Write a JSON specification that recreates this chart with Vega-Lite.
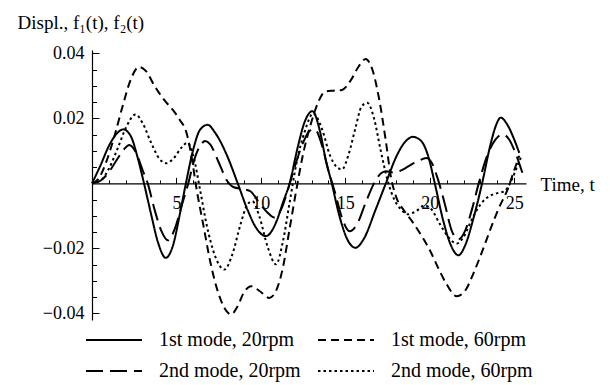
{
"$schema":"https://vega.github.io/schema/vega-lite/v6.json",
"width":434,"height":270,
"autosize":{"type":"none"},
"padding":{"left":92,"top":50,"right":84,"bottom":65},
"config":{"view":{"stroke":null},"font":"Liberation Serif",
 "axis":{"labelFont":"Liberation Serif","titleFont":"Liberation Serif","domainColor":"black","tickColor":"black","labelColor":"black","titleColor":"black","grid":false,"titleFontWeight":"normal","labelFlush":false,"labelOverlap":false,"labelBound":false}},
"data":{"values":[
{"s":"1st mode, 20rpm","t":0,"v":0},{"s":"1st mode, 20rpm","t":0.5,"v":0.0055},{"s":"1st mode, 20rpm","t":1.0,"v":0.0115},{"s":"1st mode, 20rpm","t":1.5,"v":0.0155},{"s":"1st mode, 20rpm","t":1.85,"v":0.0166},{"s":"1st mode, 20rpm","t":2.3,"v":0.0145},{"s":"1st mode, 20rpm","t":2.7,"v":0.008},{"s":"1st mode, 20rpm","t":3.08,"v":0},{"s":"1st mode, 20rpm","t":3.5,"v":-0.0095},{"s":"1st mode, 20rpm","t":3.9,"v":-0.018},{"s":"1st mode, 20rpm","t":4.37,"v":-0.0229},{"s":"1st mode, 20rpm","t":4.8,"v":-0.019},{"s":"1st mode, 20rpm","t":5.2,"v":-0.0095},{"s":"1st mode, 20rpm","t":5.56,"v":0},{"s":"1st mode, 20rpm","t":6.0,"v":0.0105},{"s":"1st mode, 20rpm","t":6.4,"v":0.0165},{"s":"1st mode, 20rpm","t":6.85,"v":0.018},{"s":"1st mode, 20rpm","t":7.3,"v":0.0155},{"s":"1st mode, 20rpm","t":8.0,"v":0.0085},{"s":"1st mode, 20rpm","t":8.63,"v":0},{"s":"1st mode, 20rpm","t":9.2,"v":-0.008},{"s":"1st mode, 20rpm","t":9.7,"v":-0.0135},{"s":"1st mode, 20rpm","t":10.3,"v":-0.0162},{"s":"1st mode, 20rpm","t":10.9,"v":-0.012},{"s":"1st mode, 20rpm","t":11.3,"v":-0.006},{"s":"1st mode, 20rpm","t":11.7,"v":0},{"s":"1st mode, 20rpm","t":12.2,"v":0.0115},{"s":"1st mode, 20rpm","t":12.6,"v":0.019},{"s":"1st mode, 20rpm","t":13.05,"v":0.0222},{"s":"1st mode, 20rpm","t":13.5,"v":0.016},{"s":"1st mode, 20rpm","t":13.85,"v":0.007},{"s":"1st mode, 20rpm","t":14.2,"v":0},{"s":"1st mode, 20rpm","t":14.6,"v":-0.009},{"s":"1st mode, 20rpm","t":15.1,"v":-0.017},{"s":"1st mode, 20rpm","t":15.6,"v":-0.0198},{"s":"1st mode, 20rpm","t":16.1,"v":-0.017},{"s":"1st mode, 20rpm","t":16.8,"v":-0.008},{"s":"1st mode, 20rpm","t":17.4,"v":0},{"s":"1st mode, 20rpm","t":18.0,"v":0.008},{"s":"1st mode, 20rpm","t":18.5,"v":0.0125},{"s":"1st mode, 20rpm","t":19.0,"v":0.0143},{"s":"1st mode, 20rpm","t":19.5,"v":0.013},{"s":"1st mode, 20rpm","t":19.9,"v":0.0085},{"s":"1st mode, 20rpm","t":20.3,"v":0},{"s":"1st mode, 20rpm","t":20.8,"v":-0.0115},{"s":"1st mode, 20rpm","t":21.25,"v":-0.019},{"s":"1st mode, 20rpm","t":21.7,"v":-0.0221},{"s":"1st mode, 20rpm","t":22.1,"v":-0.019},{"s":"1st mode, 20rpm","t":22.6,"v":-0.0105},{"s":"1st mode, 20rpm","t":23.1,"v":0},{"s":"1st mode, 20rpm","t":23.6,"v":0.012},{"s":"1st mode, 20rpm","t":23.9,"v":0.0175},{"s":"1st mode, 20rpm","t":24.2,"v":0.0202},{"s":"1st mode, 20rpm","t":24.6,"v":0.018},{"s":"1st mode, 20rpm","t":25.0,"v":0.0135},{"s":"1st mode, 20rpm","t":25.3,"v":0.0094},
{"s":"2nd mode, 20rpm","t":0,"v":0},{"s":"2nd mode, 20rpm","t":0.5,"v":0.0008},{"s":"2nd mode, 20rpm","t":1.0,"v":0.0035},{"s":"2nd mode, 20rpm","t":1.5,"v":0.0075},{"s":"2nd mode, 20rpm","t":1.9,"v":0.0105},{"s":"2nd mode, 20rpm","t":2.2,"v":0.0118},{"s":"2nd mode, 20rpm","t":2.6,"v":0.0095},{"s":"2nd mode, 20rpm","t":3.0,"v":0.004},{"s":"2nd mode, 20rpm","t":3.3,"v":0},{"s":"2nd mode, 20rpm","t":3.7,"v":-0.008},{"s":"2nd mode, 20rpm","t":4.1,"v":-0.0145},{"s":"2nd mode, 20rpm","t":4.5,"v":-0.0175},{"s":"2nd mode, 20rpm","t":4.9,"v":-0.014},{"s":"2nd mode, 20rpm","t":5.3,"v":-0.007},{"s":"2nd mode, 20rpm","t":5.7,"v":0},{"s":"2nd mode, 20rpm","t":6.1,"v":0.008},{"s":"2nd mode, 20rpm","t":6.4,"v":0.0115},{"s":"2nd mode, 20rpm","t":6.7,"v":0.013},{"s":"2nd mode, 20rpm","t":7.0,"v":0.012},{"s":"2nd mode, 20rpm","t":7.5,"v":0.0065},{"s":"2nd mode, 20rpm","t":8.0,"v":0.0008},{"s":"2nd mode, 20rpm","t":8.4,"v":-0.0012},{"s":"2nd mode, 20rpm","t":9.0,"v":-0.0018},{"s":"2nd mode, 20rpm","t":9.4,"v":-0.0025},{"s":"2nd mode, 20rpm","t":9.9,"v":-0.006},{"s":"2nd mode, 20rpm","t":10.4,"v":-0.009},{"s":"2nd mode, 20rpm","t":10.8,"v":-0.0105},{"s":"2nd mode, 20rpm","t":11.2,"v":-0.008},{"s":"2nd mode, 20rpm","t":11.6,"v":-0.002},{"s":"2nd mode, 20rpm","t":12.0,"v":0.005},{"s":"2nd mode, 20rpm","t":12.5,"v":0.0125},{"s":"2nd mode, 20rpm","t":12.9,"v":0.0162},{"s":"2nd mode, 20rpm","t":13.2,"v":0.0166},{"s":"2nd mode, 20rpm","t":13.6,"v":0.012},{"s":"2nd mode, 20rpm","t":14.0,"v":0.004},{"s":"2nd mode, 20rpm","t":14.4,"v":-0.003},{"s":"2nd mode, 20rpm","t":14.8,"v":-0.0105},{"s":"2nd mode, 20rpm","t":15.25,"v":-0.0147},{"s":"2nd mode, 20rpm","t":15.7,"v":-0.0125},{"s":"2nd mode, 20rpm","t":16.2,"v":-0.006},{"s":"2nd mode, 20rpm","t":16.7,"v":0},{"s":"2nd mode, 20rpm","t":17.1,"v":0.003},{"s":"2nd mode, 20rpm","t":17.4,"v":0.0037},{"s":"2nd mode, 20rpm","t":17.9,"v":0.0033},{"s":"2nd mode, 20rpm","t":18.4,"v":0.0042},{"s":"2nd mode, 20rpm","t":18.9,"v":0.0058},{"s":"2nd mode, 20rpm","t":19.3,"v":0.0068},{"s":"2nd mode, 20rpm","t":19.8,"v":0.0078},{"s":"2nd mode, 20rpm","t":20.1,"v":0.0065},{"s":"2nd mode, 20rpm","t":20.5,"v":0.001},{"s":"2nd mode, 20rpm","t":20.9,"v":-0.0065},{"s":"2nd mode, 20rpm","t":21.3,"v":-0.0145},{"s":"2nd mode, 20rpm","t":21.7,"v":-0.0172},{"s":"2nd mode, 20rpm","t":22.1,"v":-0.0145},{"s":"2nd mode, 20rpm","t":22.5,"v":-0.008},{"s":"2nd mode, 20rpm","t":22.9,"v":0},{"s":"2nd mode, 20rpm","t":23.4,"v":0.0085},{"s":"2nd mode, 20rpm","t":23.9,"v":0.0135},{"s":"2nd mode, 20rpm","t":24.3,"v":0.0151},{"s":"2nd mode, 20rpm","t":24.7,"v":0.0135},{"s":"2nd mode, 20rpm","t":25.1,"v":0.009},{"s":"2nd mode, 20rpm","t":25.5,"v":0.003},
{"s":"1st mode, 60rpm","t":0,"v":0},{"s":"1st mode, 60rpm","t":0.4,"v":0.0015},{"s":"1st mode, 60rpm","t":0.8,"v":0.006},{"s":"1st mode, 60rpm","t":1.3,"v":0.014},{"s":"1st mode, 60rpm","t":1.8,"v":0.0235},{"s":"1st mode, 60rpm","t":2.3,"v":0.032},{"s":"1st mode, 60rpm","t":2.78,"v":0.0358},{"s":"1st mode, 60rpm","t":3.2,"v":0.0345},{"s":"1st mode, 60rpm","t":3.7,"v":0.030},{"s":"1st mode, 60rpm","t":4.3,"v":0.0255},{"s":"1st mode, 60rpm","t":4.8,"v":0.0225},{"s":"1st mode, 60rpm","t":5.2,"v":0.0195},{"s":"1st mode, 60rpm","t":5.6,"v":0.0155},{"s":"1st mode, 60rpm","t":5.9,"v":0.008},{"s":"1st mode, 60rpm","t":6.2,"v":-0.002},{"s":"1st mode, 60rpm","t":6.6,"v":-0.013},{"s":"1st mode, 60rpm","t":7.0,"v":-0.024},{"s":"1st mode, 60rpm","t":7.5,"v":-0.034},{"s":"1st mode, 60rpm","t":8.0,"v":-0.0395},{"s":"1st mode, 60rpm","t":8.23,"v":-0.0403},{"s":"1st mode, 60rpm","t":8.6,"v":-0.038},{"s":"1st mode, 60rpm","t":9.0,"v":-0.0335},{"s":"1st mode, 60rpm","t":9.42,"v":-0.0316},{"s":"1st mode, 60rpm","t":9.9,"v":-0.033},{"s":"1st mode, 60rpm","t":10.5,"v":-0.0352},{"s":"1st mode, 60rpm","t":10.9,"v":-0.033},{"s":"1st mode, 60rpm","t":11.3,"v":-0.026},{"s":"1st mode, 60rpm","t":11.7,"v":-0.014},{"s":"1st mode, 60rpm","t":12.1,"v":-0.002},{"s":"1st mode, 60rpm","t":12.5,"v":0.009},{"s":"1st mode, 60rpm","t":13.0,"v":0.019},{"s":"1st mode, 60rpm","t":13.4,"v":0.025},{"s":"1st mode, 60rpm","t":13.8,"v":0.0282},{"s":"1st mode, 60rpm","t":14.3,"v":0.0285},{"s":"1st mode, 60rpm","t":14.8,"v":0.0287},{"s":"1st mode, 60rpm","t":15.3,"v":0.0315},{"s":"1st mode, 60rpm","t":15.8,"v":0.036},{"s":"1st mode, 60rpm","t":16.2,"v":0.0382},{"s":"1st mode, 60rpm","t":16.6,"v":0.035},{"s":"1st mode, 60rpm","t":17.0,"v":0.026},{"s":"1st mode, 60rpm","t":17.4,"v":0.013},{"s":"1st mode, 60rpm","t":17.7,"v":0.002},{"s":"1st mode, 60rpm","t":18.0,"v":-0.004},{"s":"1st mode, 60rpm","t":18.5,"v":-0.0085},{"s":"1st mode, 60rpm","t":19.0,"v":-0.012},{"s":"1st mode, 60rpm","t":19.5,"v":-0.016},{"s":"1st mode, 60rpm","t":20.0,"v":-0.0205},{"s":"1st mode, 60rpm","t":20.5,"v":-0.026},{"s":"1st mode, 60rpm","t":21.0,"v":-0.031},{"s":"1st mode, 60rpm","t":21.6,"v":-0.0347},{"s":"1st mode, 60rpm","t":22.1,"v":-0.033},{"s":"1st mode, 60rpm","t":22.6,"v":-0.0275},{"s":"1st mode, 60rpm","t":23.1,"v":-0.021},{"s":"1st mode, 60rpm","t":23.6,"v":-0.014},{"s":"1st mode, 60rpm","t":24.1,"v":-0.0075},{"s":"1st mode, 60rpm","t":24.6,"v":-0.002},{"s":"1st mode, 60rpm","t":25.0,"v":0.004},{"s":"1st mode, 60rpm","t":25.3,"v":0.0085},
{"s":"2nd mode, 60rpm","t":0,"v":0},{"s":"2nd mode, 60rpm","t":0.5,"v":0.0008},{"s":"2nd mode, 60rpm","t":1.0,"v":0.0045},{"s":"2nd mode, 60rpm","t":1.5,"v":0.0105},{"s":"2nd mode, 60rpm","t":2.0,"v":0.017},{"s":"2nd mode, 60rpm","t":2.58,"v":0.0212},{"s":"2nd mode, 60rpm","t":3.0,"v":0.0185},{"s":"2nd mode, 60rpm","t":3.5,"v":0.0125},{"s":"2nd mode, 60rpm","t":4.0,"v":0.0075},{"s":"2nd mode, 60rpm","t":4.37,"v":0.0062},{"s":"2nd mode, 60rpm","t":4.8,"v":0.0075},{"s":"2nd mode, 60rpm","t":5.3,"v":0.011},{"s":"2nd mode, 60rpm","t":5.65,"v":0.0125},{"s":"2nd mode, 60rpm","t":6.0,"v":0.0085},{"s":"2nd mode, 60rpm","t":6.4,"v":-0.002},{"s":"2nd mode, 60rpm","t":6.8,"v":-0.013},{"s":"2nd mode, 60rpm","t":7.3,"v":-0.0225},{"s":"2nd mode, 60rpm","t":7.84,"v":-0.0265},{"s":"2nd mode, 60rpm","t":8.3,"v":-0.022},{"s":"2nd mode, 60rpm","t":8.8,"v":-0.0125},{"s":"2nd mode, 60rpm","t":9.2,"v":-0.0065},{"s":"2nd mode, 60rpm","t":9.5,"v":-0.0055},{"s":"2nd mode, 60rpm","t":9.9,"v":-0.01},{"s":"2nd mode, 60rpm","t":10.4,"v":-0.0195},{"s":"2nd mode, 60rpm","t":10.9,"v":-0.0249},{"s":"2nd mode, 60rpm","t":11.3,"v":-0.018},{"s":"2nd mode, 60rpm","t":11.7,"v":-0.006},{"s":"2nd mode, 60rpm","t":12.1,"v":0.006},{"s":"2nd mode, 60rpm","t":12.6,"v":0.016},{"s":"2nd mode, 60rpm","t":13.1,"v":0.0215},{"s":"2nd mode, 60rpm","t":13.6,"v":0.017},{"s":"2nd mode, 60rpm","t":14.1,"v":0.0085},{"s":"2nd mode, 60rpm","t":14.5,"v":0.005},{"s":"2nd mode, 60rpm","t":14.8,"v":0.0043},{"s":"2nd mode, 60rpm","t":15.2,"v":0.009},{"s":"2nd mode, 60rpm","t":15.6,"v":0.017},{"s":"2nd mode, 60rpm","t":15.95,"v":0.0235},{"s":"2nd mode, 60rpm","t":16.3,"v":0.0248},{"s":"2nd mode, 60rpm","t":16.7,"v":0.02},{"s":"2nd mode, 60rpm","t":17.1,"v":0.01},{"s":"2nd mode, 60rpm","t":17.5,"v":0.001},{"s":"2nd mode, 60rpm","t":17.9,"v":-0.005},{"s":"2nd mode, 60rpm","t":18.3,"v":-0.008},{"s":"2nd mode, 60rpm","t":18.7,"v":-0.0095},{"s":"2nd mode, 60rpm","t":19.2,"v":-0.0085},{"s":"2nd mode, 60rpm","t":19.7,"v":-0.0068},{"s":"2nd mode, 60rpm","t":20.1,"v":-0.008},{"s":"2nd mode, 60rpm","t":20.6,"v":-0.0125},{"s":"2nd mode, 60rpm","t":21.1,"v":-0.0165},{"s":"2nd mode, 60rpm","t":21.6,"v":-0.0185},{"s":"2nd mode, 60rpm","t":22.0,"v":-0.0165},{"s":"2nd mode, 60rpm","t":22.5,"v":-0.011},{"s":"2nd mode, 60rpm","t":23.0,"v":-0.0065},{"s":"2nd mode, 60rpm","t":23.5,"v":-0.004},{"s":"2nd mode, 60rpm","t":24.0,"v":-0.003},{"s":"2nd mode, 60rpm","t":24.4,"v":-0.0025},{"s":"2nd mode, 60rpm","t":24.8,"v":0.0005},{"s":"2nd mode, 60rpm","t":25.2,"v":0.0055},{"s":"2nd mode, 60rpm","t":25.4,"v":0.008}
]},
"layer":[
 {"mark":{"type":"line","color":"black","strokeWidth":2,"interpolate":"monotone"},
  "encoding":{
   "x":{"field":"t","type":"quantitative","scale":{"domain":[0,25.7],"nice":false,"zero":false},
        "axis":{"orient":"bottom","offset":-136.63,"values":[5,10,15,20,25],"ticks":false,"domain":true,"domainWidth":1.2,"labelFontSize":18,"labelPadding":11,
                "title":"Time, t","titleX":448,"titleY":7,"titleAlign":"left","titleBaseline":"alphabetic","titleFontSize":19,"titleAnchor":"start"}},
   "y":{"field":"v","type":"quantitative","scale":{"domain":[-0.042,0.041],"nice":false,"zero":false},
        "axis":{"orient":"left","values":[-0.04,-0.02,0.02,0.04],"format":".2f","ticks":false,"domain":true,"domainWidth":1.2,"labelFontSize":18,"labelPadding":8,
                "title":"Displ., f₁(t), f₂(t)","titleAngle":0,"titleX":-75,"titleY":-22,"titleAlign":"left","titleBaseline":"alphabetic","titleFontSize":19,"titleAnchor":"start"}},
   "strokeDash":{"field":"s","type":"nominal",
     "scale":{"domain":["1st mode, 20rpm","1st mode, 60rpm","2nd mode, 20rpm","2nd mode, 60rpm"],"range":[[1,0],[8,5],[17,7],[2.5,3]]},
     "legend":{"title":null,"orient":"none","direction":"horizontal","legendX":12,"legendY":280,"columns":2,"symbolType":"M-4,0H4","symbolSize":196,"symbolStrokeWidth":2,"symbolStrokeColor":"black","symbolFillColor":"transparent",
               "labelFont":"Liberation Serif","labelFontSize":20,"labelColor":"black","labelOffset":35,"columnPadding":13,"rowPadding":11,"labelLimit":400}}
  }},
 {"mark":{"type":"point","opacity":0},
  "encoding":{
   "x":{"field":"t","type":"quantitative","scale":{"domain":[0,25.7],"nice":false,"zero":false},
        "axis":{"orient":"top","offset":-133.37,"values":[1,2,3,4,6,7,8,9,11,12,13,14,16,17,18,19,21,22,23,24],"labels":false,"domain":false,"tickSize":3.5,"tickWidth":1,"title":null}},
   "y":{"field":"v","type":"quantitative","scale":{"domain":[-0.042,0.041],"nice":false,"zero":false},
        "axis":{"orient":"right","offset":-434,"values":[-0.035,-0.03,-0.025,-0.015,-0.01,-0.005,0.005,0.01,0.015,0.025,0.03,0.035],"labels":false,"domain":false,"tickSize":4.5,"tickWidth":1,"title":null}}
  }},
 {"mark":{"type":"point","opacity":0},
  "encoding":{
   "x":{"field":"t","type":"quantitative","scale":{"domain":[0,25.7],"nice":false,"zero":false},
        "axis":{"orient":"top","offset":-133.37,"values":[5,10,15,20,25],"labels":false,"domain":false,"tickSize":6,"tickWidth":1,"title":null}},
   "y":{"field":"v","type":"quantitative","scale":{"domain":[-0.042,0.041],"nice":false,"zero":false},
        "axis":{"orient":"right","offset":-434,"values":[-0.04,-0.02,0.02,0.04],"labels":false,"domain":false,"tickSize":7,"tickWidth":1,"title":null}}
  }}
],
"resolve":{"axis":{"x":"independent","y":"independent"}}
}
